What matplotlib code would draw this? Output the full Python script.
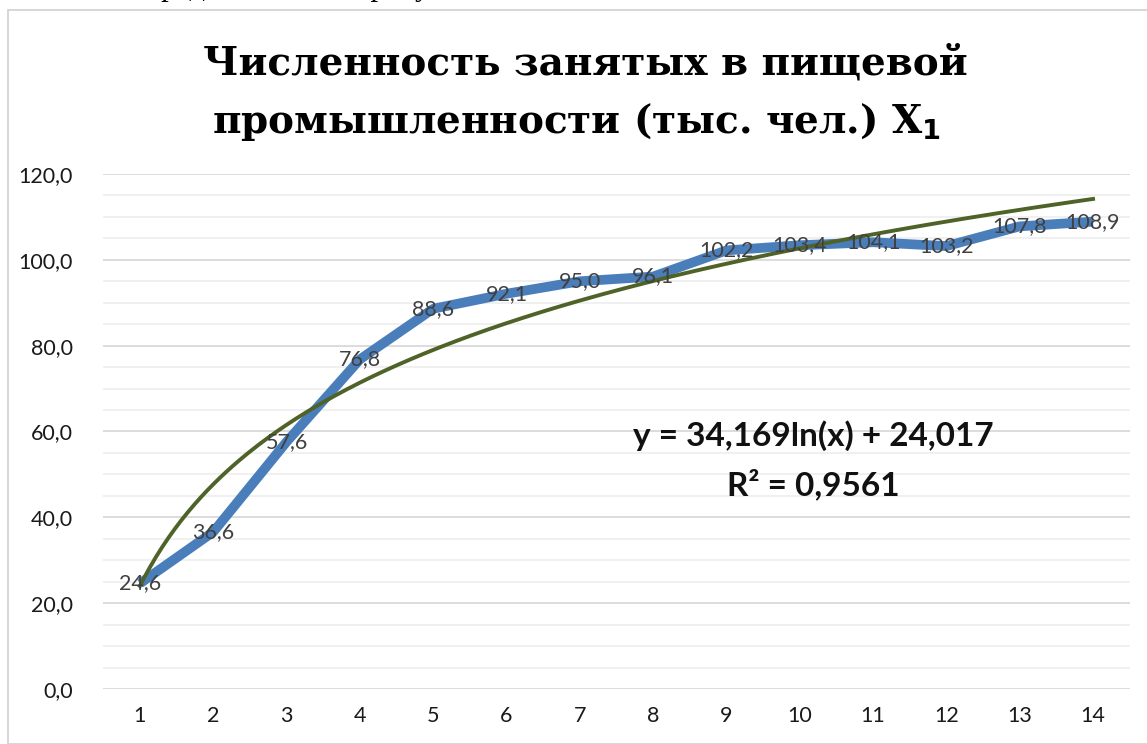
import matplotlib
matplotlib.use("Agg")
import matplotlib.pyplot as plt
import numpy as np
from matplotlib.patches import Rectangle
from matplotlib.ticker import MultipleLocator, FuncFormatter

# данные
years = list(range(1, 15))
employed = [24.6, 36.6, 57.6, 76.8, 88.6, 92.1, 95.0, 96.1, 102.2, 103.4, 104.1, 103.2, 107.8, 108.9]
trend_a = 34.169
trend_b = 24.017
title_lines = ["Численность занятых в пищевой", "промышленности (тыс. чел.) X$_\\mathbf{1}$"]
eq_text = "y = 34,169ln(x) + 24,017"
r2_text = "R² = 0,9561"
doc_line = "ики представлены на рисунке 3."

W, H = 1147, 744
fig = plt.figure(figsize=(W / 100, H / 100), dpi=100)

# рамка области диаграммы
fig.patches.append(Rectangle((8 / W, 0), 1.2, 1 - 10 / H, transform=fig.transFigure,
                             fill=False, edgecolor="#d0d0d0", linewidth=1.2))

# обрезанная строка документа сверху
fig.text(505 / W, 1.017, doc_line, fontsize=22,
         family="Liberation Serif", ha="right", va="center")

left, right = 103.3, 1129.7
bottom, top = 689, 174
ax = fig.add_axes([left / W, 1 - bottom / H, (right - left) / W, (bottom - top) / H])
ax.set_xlim(0.5, 14.5)
ax.set_ylim(0, 120)

ax.yaxis.set_major_locator(MultipleLocator(20))
ax.yaxis.set_minor_locator(MultipleLocator(5))
ax.grid(axis="y", which="major", color="#d9d9d9", linewidth=1.3)
ax.grid(axis="y", which="minor", color="#efefef", linewidth=1.3)
ax.set_axisbelow(True)
for s in ax.spines.values():
    s.set_visible(False)
ax.tick_params(axis="both", which="both", length=0, labelsize=15.5, colors="#1a1a1a", pad=12)
ax.tick_params(axis="y", pad=22)
ax.set_xticks(years)
ax.yaxis.set_major_formatter(FuncFormatter(lambda v, p: f"{v:.1f}".replace(".", ",")))
for lab in ax.get_xticklabels() + ax.get_yticklabels():
    lab.set_family("Lato")

ax.plot(years, employed, color="#4a7ebb", linewidth=7, solid_capstyle="butt", zorder=2)
xs = np.linspace(1, 14, 300)
ax.plot(xs, trend_a * np.log(xs) + trend_b, color="#4f6228", linewidth=2.8, zorder=3)

for x, y in zip(years, employed):
    ax.text(x, y, f"{y:.1f}".replace(".", ","), ha="center", va="center",
            fontsize=15.5, family="Lato", color="#404040", zorder=4)

fig.text(813 / W, 1 - 436 / H, eq_text, fontsize=24, fontweight="bold",
         family="Lato", ha="center", va="center", color="#111111")
fig.text(813 / W, 1 - 484 / H, r2_text, fontsize=24, fontweight="bold",
         family="Lato", ha="center", va="center", color="#111111")

fig.text(585 / W, 1 - 63 / H, title_lines[0], fontsize=28, fontweight="bold",
         family="DejaVu Serif", ha="center", va="center")
fig.text(577 / W, 1 - 122 / H, title_lines[1], fontsize=28, fontweight="bold",
         family="DejaVu Serif", ha="center", va="center")

fig.savefig("out.png", dpi=100)
